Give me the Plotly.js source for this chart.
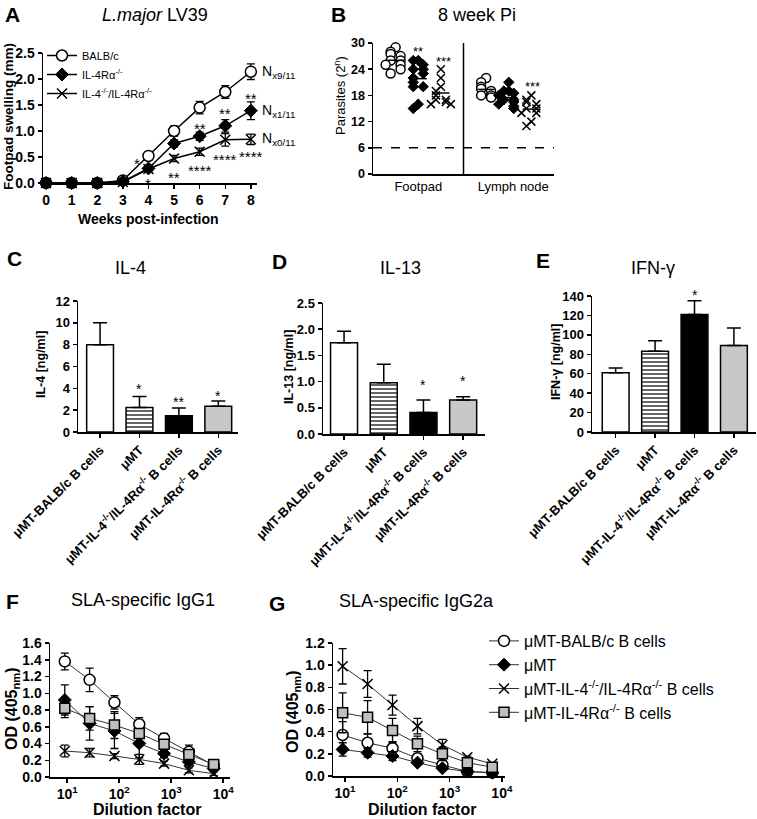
<!DOCTYPE html>
<html><head><meta charset="utf-8">
<script src="https://cdn.plot.ly/plotly-3.0.1.min.js"></script>
<style>body{margin:0;background:#fff}#chart{width:757px;height:819px}</style>
</head><body><div id="chart"></div>
<script>
// ---------- DATA ----------
// Panel A: footpad swelling
const weeks = [0,1,2,3,4,5,6,7,8];
const swellBalb = [0,0,0,0.05,0.52,1.00,1.45,1.75,2.14];
const swellBalbErr = [0,0,0,0.03,0.05,0.10,0.12,0.12,0.15];
const swellR = [0,0,0,0.03,0.28,0.76,0.90,1.10,1.39];
const swellRErr = [0,0,0,0.02,0.04,0.07,0.08,0.12,0.17];
const swellDKO = [0,0,0,0.02,0.27,0.47,0.60,0.83,0.84];
const swellDKOErr = [0,0,0,0.02,0.04,0.06,0.07,0.12,0.10];
const legendA = ['BALB/c','IL-4Rα<sup>-/-</sup>','IL-4<sup>-/-</sup>/IL-4Rα<sup>-/-</sup>'];
const nLabels = ['N<sub>x9/11</sub>','N<sub>x1/11</sub>','N<sub>x0/11</sub>'];
// Panel B: parasite burden (2^n)
const footBalb = [29,28,27.5,27,26,26,25,25,24,23];
const footR = [26,26,25,24,24,23,22,21,20,20,16,15];
const footDKO = [24,22,20,19,18,17,17,16.5,16,16];
const lnBalb = [22,21,20,19.5,19,18,18,17.5];
const lnR = [21,19,19,18.5,18,17,17,16.5,16,15.5,15];
const lnDKO = [18,17,16.5,16,15,15,14,14,12,11];
const tissues = ['Footpad','Lymph node'];
const detectionLimit = 6;
// Panels C-E: cytokines
const groups = ['μMT-BALB/c B cells','μMT','μMT-IL-4<sup>-/-</sup>/IL-4Rα<sup>-/-</sup> B cells','μMT-IL-4Rα<sup>-/-</sup> B cells'];
const il4 = [8.0,2.25,1.5,2.35];
const il4Err = [2.0,1.0,0.7,0.5];
const il13 = [1.74,0.98,0.41,0.65];
const il13Err = [0.22,0.35,0.24,0.06];
const ifng = [61,83,121,89];
const ifngErr = [5,11,14,18];
// Panels F-G: SLA-specific antibodies
const dilution = [9,27,81,243,729,2187,6561];
const dilTicks = [10,100,1000,10000];
const dilTickText = ['10<sup>1</sup>','10<sup>2</sup>','10<sup>3</sup>','10<sup>4</sup>'];
const g1Balb = [1.38,1.16,0.89,0.63,0.46,0.30,0.14];
const g1BalbErr = [0.10,0.14,0.08,0.08,0.06,0.08,0.04];
const g1MT = [0.92,0.64,0.55,0.40,0.28,0.18,0.10];
const g1MTErr = [0.18,0.20,0.21,0.17,0.05,0.04,0.03];
const g1DKO = [0.31,0.29,0.25,0.21,0.16,0.08,0.04];
const g1DKOErr = [0.07,0.05,0.03,0.06,0.03,0.03,0.02];
const g1R = [0.82,0.70,0.62,0.52,0.39,0.27,0.15];
const g1RErr = [0.11,0.14,0.16,0.05,0.05,0.04,0.03];
const g2Balb = [0.37,0.30,0.25,0.16,0.10,0.04,0.03];
const g2BalbErr = [0.12,0.08,0.06,0.04,0.03,0.01,0.01];
const g2MT = [0.24,0.21,0.18,0.12,0.07,0.04,0.03];
const g2MTErr = [0.06,0.04,0.04,0.02,0.01,0.01,0.01];
const g2DKO = [0.99,0.83,0.64,0.45,0.28,0.17,0.11];
const g2DKOErr = [0.16,0.12,0.09,0.07,0.05,0.01,0.01];
const g2R = [0.57,0.53,0.41,0.29,0.20,0.12,0.08];
const g2RErr = [0.18,0.15,0.11,0.07,0.06,0.02,0.01];
const legendG = ['μMT-BALB/c B cells','μMT','μMT-IL-4<sup>-/-</sup>/IL-4Rα<sup>-/-</sup> B cells','μMT-IL-4Rα<sup>-/-</sup> B cells'];
// significance labels [x, y, text]
const starsA = [[3.55,0.46,'*'],[4,0.07,'*'],[5,0.19,'**'],[6,1.12,'**'],[6,0.32,'****'],[7,1.41,'**'],[7,0.52,'****'],[8,1.70,'**'],[8,0.58,'****']];
const starsB = [[2,29,'**'],[3.1,26.7,'***'],[7.05,21,'***']];
const starsC = [[1,4.3,'*'],[2,3.15,'**'],[3,3.7,'*']];
const starsD = [[2,1.02,'*'],[3,1.08,'*']];
const starsE = [[2,140,'*']];
const starsF = [[9,1.18,'*'],[9,0.60,'*'],[9,0.16,'***'],[27,0.92,'*'],[27,0.43,'*'],[27,0.16,'***'],[81,0.16,'**'],[243,0.08,'*'],[729,0.06,'*']];
const starsG = [[9,1.19,'*'],[27,1.04,'**'],[81,0.80,'**'],[243,0.61,'**'],[729,0.38,'*']];

// ---------- HELPERS ----------
const W=757,H=819;
const px=v=>v/W, py=v=>1-v/H;
const FONT='"Liberation Sans", Arial, sans-serif';
function ax(extra){return Object.assign({showline:true,linecolor:'black',linewidth:1.5,ticks:'outside',ticklen:4,tickwidth:1.5,tickcolor:'black',showgrid:false,zeroline:false,fixedrange:true,tickfont:{family:FONT,size:13,color:'black',weight:'bold'}},extra);}
const mk = {
  circle:{symbol:'circle',color:'white',size:11,line:{color:'black',width:1.5}},
  diamond:{symbol:'diamond',color:'black',size:10,line:{color:'black',width:1}},
  x:{symbol:'x-thin-open',color:'black',size:10,line:{color:'black',width:1.5}},
  square:{symbol:'square',color:'#c0c0c0',size:10,line:{color:'black',width:1.5}}
};
function err(a){return {type:'data',array:a,color:'black',thickness:1.3,width:4};}
const traces=[]; const anns=[]; const shapes=[];
function txt(xref,yref,x,y,text,o){anns.push(Object.assign({xref,yref,x,y,text,showarrow:false,xanchor:'center',yanchor:'middle',font:{family:FONT,size:13,color:'black'}},o||{}));}
function stars(list,xa,ya,size,shift){list.forEach(s=>txt(xa,ya,s[0],s[1],s[2],{font:{family:FONT,size:size||15,color:'black'},yshift:shift===undefined?-4:shift}));}

// ---------- PANEL A ----------
[[swellBalb,swellBalbErr,mk.circle],[swellR,swellRErr,mk.diamond],[swellDKO,swellDKOErr,mk.x]].forEach((d,i)=>{
  traces.push({x:weeks,y:d[0],error_y:err(d[1]),mode:'lines+markers',line:{color:'black',width:1.5},marker:d[2],
    name:legendA[i],legend:'legend',xaxis:'x',yaxis:'y',cliponaxis:false});
});
[swellBalb,swellR,swellDKO].forEach((d,i)=>txt('x','y',8,d[8],nLabels[i],{xanchor:'left',xshift:9,font:{family:FONT,size:14,color:'black'}}));
stars(starsA,'x','y',15);

// ---------- PANEL B ----------
function swarm(vals,center){
  const pat=[0,-1,1,-2,2,-3,3];
  const xs=[]; vals.forEach((v,i)=>{let c=0; for(let j=0;j<i;j++){if(Math.abs(vals[j]-v)<1.2)c++;} xs.push(center+pat[c%pat.length]*0.22);});
  return xs;
}
[[footBalb,1,mk.circle],[footR,2,mk.diamond],[footDKO,3,mk.x],[lnBalb,5,mk.circle],[lnR,6,mk.diamond],[lnDKO,7,mk.x]].forEach(d=>{
  const m=Object.assign({},d[2],{size:d[2].symbol==='circle'?9:8});
  traces.push({x:swarm(d[0],d[1]),y:d[0],mode:'markers',marker:m,showlegend:false,xaxis:'x2',yaxis:'y2',cliponaxis:false});
  const mean=d[0].reduce((a,b)=>a+b,0)/d[0].length;
  traces.push({x:[d[1]-0.38,d[1]+0.38],y:[mean,mean],mode:'lines',line:{color:'black',width:1.5},showlegend:false,xaxis:'x2',yaxis:'y2'});
});
shapes.push({type:'line',xref:'x2',yref:'y2',x0:4,x1:4,y0:0,y1:30,line:{color:'black',width:1.5}});
shapes.push({type:'line',xref:'x2',yref:'y2',x0:0,x1:8,y0:detectionLimit,y1:detectionLimit,line:{color:'black',width:1.5,dash:'dash'}});
stars(starsB,'x2','y2',13);

// ---------- PANELS C-E ----------
const barColors=['white','white','black','#c8c8c8'];
const barIdx=[0,1,2,3];
[[il4,il4Err,'x3','y3'],[il13,il13Err,'x4','y4'],[ifng,ifngErr,'x5','y5']].forEach(d=>{
  barIdx.forEach(i=>{
    const m={color:barColors[i],line:{color:'black',width:1.5}};
    if(i===1) m.pattern={shape:'-',fgcolor:'black',bgcolor:'white',size:4,solidity:0.3,fillmode:'replace'};
    traces.push({type:'bar',x:[i],y:[d[0][i]],width:0.68,marker:m,
      error_y:{type:'data',symmetric:false,array:[d[1][i]],arrayminus:[0],color:'black',thickness:1.5,width:7},showlegend:false,xaxis:d[2],yaxis:d[3]});
  });
});
stars(starsC,'x3','y3',14); stars(starsD,'x4','y4',14); stars(starsE,'x5','y5',14,1);

// ---------- PANELS F-G ----------
[[g1Balb,g1BalbErr,mk.circle],[g1MT,g1MTErr,mk.diamond],[g1DKO,g1DKOErr,mk.x],[g1R,g1RErr,mk.square]].forEach(d=>{
  traces.push({x:dilution,y:d[0],error_y:err(d[1]),mode:'lines+markers',line:{color:'#333',width:1},marker:d[2],showlegend:false,xaxis:'x6',yaxis:'y6',cliponaxis:false});
});
[[g2Balb,g2BalbErr,mk.circle],[g2MT,g2MTErr,mk.diamond],[g2DKO,g2DKOErr,mk.x],[g2R,g2RErr,mk.square]].forEach((d,i)=>{
  traces.push({x:dilution,y:d[0],error_y:err(d[1]),mode:'lines+markers',line:{color:'#333',width:1},marker:d[2],name:legendG[i],legend:'legend2',xaxis:'x7',yaxis:'y7',cliponaxis:false});
});
stars(starsF,'x6','y6',14); stars(starsG,'x7','y7',14);

// ---------- TEXT ----------
const P={family:FONT,size:21,color:'black',weight:'bold'};
const T={family:FONT,size:18,color:'black'};
const YT={family:FONT,size:12.5,color:'black',weight:'bold'};
const OD={family:FONT,size:16,color:'black',weight:'bold'};
const DF={family:FONT,size:16,color:'black',weight:'bold'};
[['A',12,14],['B',338,14],['C',14,258],['D',279,261],['E',543,260],['F',12,601],['G',277,603]].forEach(l=>txt('paper','paper',px(l[1]),py(l[2]),l[0],{font:P}));
[['<i>L.major</i> LV39',155,15],['8 week Pi',477,15],['IL-4',130,268],['IL-13',400,268],['IFN-γ',653,268],['SLA-specific IgG1',143,600],['SLA-specific IgG2a',417,601]].forEach(l=>txt('paper','paper',px(l[1]),py(l[2]),l[0],{font:T}));
// axis titles
txt('paper','paper',px(9),py(117),'Footpad swelling (mm)',{textangle:-90,font:{family:FONT,size:13.5,color:'black',weight:'bold'}});
txt('paper','paper',px(148),py(219),'Weeks post-infection',{font:{family:FONT,size:14,color:'black',weight:'bold'}});
txt('paper','paper',px(340),py(96),'Parasites (2<sup>n</sup>)',{textangle:-90,font:{family:FONT,size:13,color:'black'}});
txt('paper','paper',px(41),py(365),'IL-4 [ng/ml]',{textangle:-90,font:YT});
txt('paper','paper',px(289),py(367),'IL-13 [ng/ml]',{textangle:-90,font:YT});
txt('paper','paper',px(556),py(362),'IFN-γ [ng/ml]',{textangle:-90,font:YT});
txt('paper','paper',px(12),py(709),'OD (405<sub>nm</sub>)',{textangle:-90,font:OD});
txt('paper','paper',px(293),py(712),'OD (405<sub>nm</sub>)',{textangle:-90,font:OD});
txt('paper','paper',px(147),py(809),'Dilution factor',{font:DF});
txt('paper','paper',px(422),py(809),'Dilution factor',{font:DF});

const catTicks={tickvals:[0,1,2,3],ticktext:groups,tickangle:-45,tickfont:{family:FONT,size:13,color:'black',weight:'bold'}};
const F14={family:FONT,size:14,color:'black',weight:'bold'};
const layout={
  width:W,height:H,margin:{l:0,r:0,t:0,b:0},paper_bgcolor:'white',plot_bgcolor:'rgba(0,0,0,0)',
  font:{family:FONT,color:'black'},barmode:'overlay',
  xaxis:ax({domain:[px(43),px(257)],range:[-0.12,8.24],tickvals:weeks,anchor:'y',tickfont:F14}),
  yaxis:ax({domain:[py(183),py(53)],range:[0,2.5],dtick:0.5,tickformat:'.1f',anchor:'x',tickfont:F14}),
  xaxis2:ax({domain:[px(373),px(554)],range:[0,8],tickvals:[2,6.2],ticktext:tissues,ticks:'',anchor:'y2',tickfont:{family:FONT,size:13,color:'black'}}),
  yaxis2:ax({domain:[py(174),py(43)],range:[0,30],dtick:6,anchor:'x2',tickfont:{family:FONT,size:12.5,color:'black',weight:'bold'}}),
  xaxis3:ax(Object.assign({domain:[px(78),px(238)],range:[-0.56,3.5],anchor:'y3'},catTicks)),
  yaxis3:ax({domain:[py(432),py(301)],range:[0,12],dtick:2,anchor:'x3'}),
  xaxis4:ax(Object.assign({domain:[px(323),px(485)],range:[-0.53,3.55],anchor:'y4'},catTicks)),
  yaxis4:ax({domain:[py(434),py(303)],range:[0,2.5],dtick:0.5,tickformat:'.1f',anchor:'x4'}),
  xaxis5:ax(Object.assign({domain:[px(592),px(756)],range:[-0.6,3.56],anchor:'y5'},catTicks)),
  yaxis5:ax({domain:[py(432),py(296)],range:[0,140],dtick:20,anchor:'x5'}),
  xaxis6:ax({domain:[px(50),px(230)],type:'log',range:[0.67,4.13],tickvals:dilTicks,ticktext:dilTickText,anchor:'y6',tickfont:F14}),
  yaxis6:ax({domain:[py(777),py(643)],range:[0,1.6],dtick:0.2,tickformat:'.1f',anchor:'x6',tickfont:F14}),
  xaxis7:ax({domain:[px(333),px(505)],type:'log',range:[0.77,4.06],tickvals:dilTicks,ticktext:dilTickText,anchor:'y7',tickfont:F14}),
  yaxis7:ax({domain:[py(776),py(643)],range:[0,1.2],dtick:0.2,tickformat:'.1f',anchor:'x7',tickfont:F14}),
  legend:{x:px(42),y:py(41),xanchor:'left',yanchor:'top',bgcolor:'rgba(0,0,0,0)',font:{family:FONT,size:11,color:'black'},itemwidth:30,tracegroupgap:0},
  legend2:{x:px(484),y:py(624),xanchor:'left',yanchor:'top',bgcolor:'rgba(0,0,0,0)',font:{family:FONT,size:16,color:'black'},itemwidth:30,tracegroupgap:0},
  annotations:anns,shapes:shapes,showlegend:true
};
Plotly.newPlot('chart',traces,layout,{staticPlot:true,displayModeBar:false});
</script></body></html>
